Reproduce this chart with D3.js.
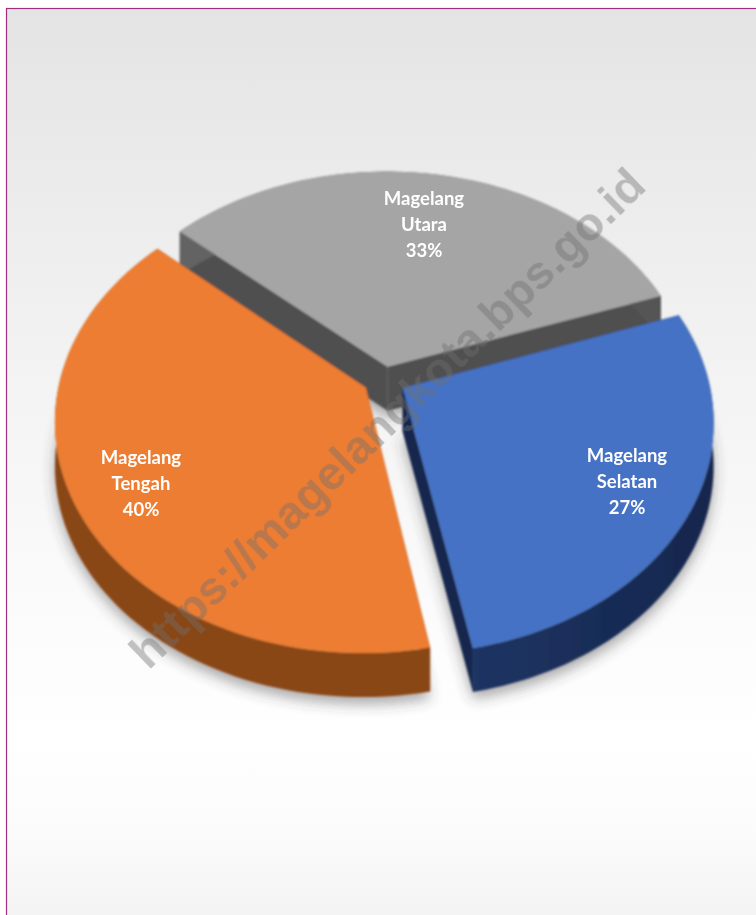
<!DOCTYPE html>
<html><head><meta charset="utf-8">
<script src="https://cdn.jsdelivr.net/npm/d3@7"></script>
<style>html,body{margin:0;padding:0;background:#fff}svg{display:block}</style>
</head><body><svg id="c" width="756" height="915"></svg>
<script>
const categories = ["Magelang Selatan", "Magelang Tengah", "Magelang Utara"];
const values = [27.4, 39.6, 33];
const topColors = ["#4472c4", "#ed7d31", "#a5a5a5"];
const sideDark = ["#14264d", "#6e3710", "#4f4f4f"];
const sideLight = ["#1f3564", "#8a4714", "#636363"];
const drawOrder = [2, 0, 1];
const explode = [0.07, 0.068, 0.06];
const watermark = "https://magelangkota.bps.go.id";

const W = 756, H = 915;
const Ox = 384, Oy = 380, Rx = 306, Ry = 226, K = 0.14, depth = 44;
const startAngle = 70.5 * Math.PI / 180;

const svg = d3.select("#c");
const defs = svg.append("defs");

const bg = defs.append("linearGradient").attr("id", "bg").attr("x1", 0).attr("y1", 0).attr("x2", 0).attr("y2", 1);
[[0, "#e4e4e4"], [0.08, "#e7e7e7"], [0.4, "#f3f3f3"], [0.62, "#fafafa"], [0.8, "#ffffff"], [0.9, "#fbfbfb"], [1, "#f3f3f3"]]
  .forEach(([o, c]) => bg.append("stop").attr("offset", o).attr("stop-color", c));

defs.append("filter").attr("id", "shadow").attr("x", "-20%").attr("y", "-20%").attr("width", "140%").attr("height", "140%")
  .append("feGaussianBlur").attr("stdDeviation", 7);
defs.append("filter").attr("id", "soft").append("feGaussianBlur").attr("stdDeviation", 0.9);
defs.append("filter").attr("id", "softText").append("feGaussianBlur").attr("stdDeviation", 0.6);

topColors.forEach((c, i) => {
  const g = defs.append("linearGradient").attr("id", "side" + i).attr("gradientUnits", "userSpaceOnUse")
    .attr("x1", 60).attr("y1", 0).attr("x2", 720).attr("y2", 0);
  g.append("stop").attr("offset", 0).attr("stop-color", sideLight[i]);
  g.append("stop").attr("offset", 0.6).attr("stop-color", sideLight[i]);
  g.append("stop").attr("offset", 1).attr("stop-color", sideDark[i]);
});

const project = (u, v) => {
  const s = 1 / (1 - K * v);
  return [Ox + Rx * u * s, Oy + Ry * v * s];
};

const arcs = d3.pie().sort(null).startAngle(startAngle).endAngle(startAngle + 2 * Math.PI)(values);

const slices = arcs.map((a, i) => {
  const mid = (a.startAngle + a.endAngle) / 2;
  const du = Math.sin(mid) * explode[i], dv = -Math.cos(mid) * explode[i];
  const n = 80;
  const rim = d3.range(n + 1).map(k => {
    const t = a.startAngle + (a.endAngle - a.startAngle) * k / n;
    return project(du + Math.sin(t), dv - Math.cos(t));
  });
  const apex = project(du, dv);
  return { i, rim, apex, du, dv, mid };
});

const line = d3.line();
const closed = pts => line(pts) + "Z";
const down = p => [p[0], p[1] + depth];

svg.append("rect").attr("width", W).attr("height", H).attr("fill", "#fff");
svg.append("rect").attr("x", 6.5).attr("y", 8.5).attr("width", W).attr("height", H)
  .attr("fill", "url(#bg)").attr("stroke", "#a0307c").attr("stroke-width", 1.2);

const pie = svg.append("g").attr("filter", "url(#soft)");

pie.append("g").attr("filter", "url(#shadow)").attr("opacity", 0.45)
  .attr("transform", "translate(0,7)")
  .selectAll("path").data(slices).join("path")
  .attr("d", d => closed([d.apex, ...d.rim].map(down)))
  .attr("fill", "#444");

drawOrder.forEach(idx => {
  const s = slices[idx], g = pie.append("g");
  const a = s.apex, r0 = s.rim[0], r1 = s.rim[s.rim.length - 1];
  g.append("path").attr("d", closed([a, r0, down(r0), down(a)])).attr("fill", sideDark[idx]);
  g.append("path").attr("d", closed([a, r1, down(r1), down(a)])).attr("fill", sideDark[idx]);
  g.append("path").attr("d", closed([...s.rim, ...s.rim.map(down).reverse()])).attr("fill", `url(#side${idx})`);
  g.append("path").attr("d", closed([a, ...s.rim])).attr("fill", topColors[idx]);
});

const labelPos = [[627, 456], [141, 458], [424, 199]];
const labels = svg.append("g").attr("filter", "url(#softText)");
categories.forEach((c, i) => {
  const lines = [...c.split(" "), Math.round(values[i]) + "%"];
  const t = labels.append("text").attr("text-anchor", "middle").attr("fill", "#fff")
    .attr("font-family", "Lato, 'Open Sans', sans-serif").attr("font-weight", 700).attr("font-size", 18.5);
  lines.forEach((l, k) => t.append("tspan").attr("x", labelPos[i][0]).attr("y", labelPos[i][1] + 6 + k * 26).text(l));
});

svg.append("text").attr("transform", "translate(390,421) rotate(-44)")
  .attr("text-anchor", "middle").attr("dominant-baseline", "middle")
  .attr("font-family", "'Liberation Sans', Arial, sans-serif").attr("font-weight", 700).attr("font-size", 47)
  .attr("fill", "#6e6e6e").attr("fill-opacity", 0.42).attr("filter", "url(#softText)")
  .text(watermark);
</script></body></html>
